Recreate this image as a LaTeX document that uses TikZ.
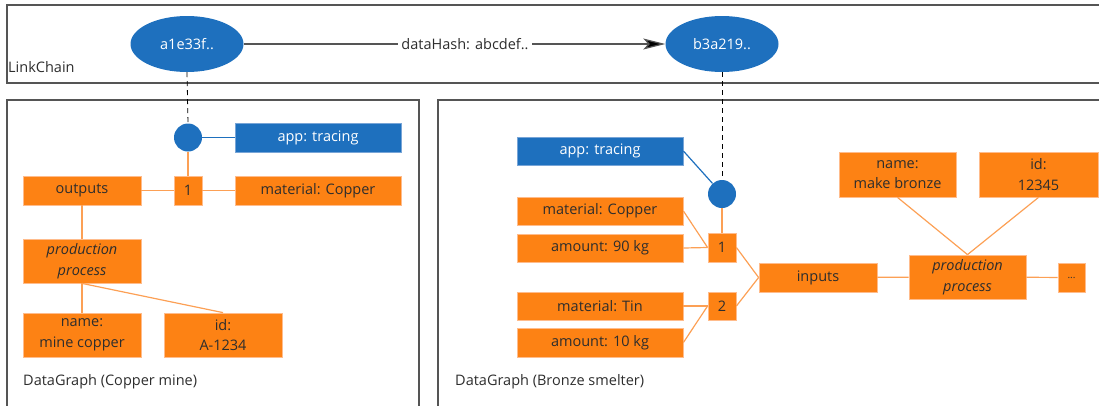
\documentclass[tikz,border=0pt]{standalone}
\usepackage{fontspec}
\setmainfont{Open Sans}
\usetikzlibrary{shapes.geometric,arrows.meta}

\definecolor{boxorange}{RGB}{253,130,20}
\definecolor{orangeedge}{RGB}{255,188,140}
\definecolor{lineorange}{RGB}{252,160,85}
\definecolor{boxblue}{RGB}{30,112,190}
\definecolor{blueedge}{RGB}{120,165,215}
\definecolor{framegray}{RGB}{85,85,85}
\definecolor{inktext}{RGB}{45,45,45}

\begin{document}
\begin{tikzpicture}[x=1pt,y=-1pt,
  font=\fontsize{14.5}{20.5}\selectfont,
  ob/.style={draw=orangeedge, fill=boxorange, line width=0.8pt, inner sep=0pt,
             text=inktext, align=center},
  bb/.style={draw=blueedge, fill=boxblue, line width=0.8pt, inner sep=0pt,
             text=white, align=center},
  dot/.style={circle, fill=boxblue, minimum size=28, inner sep=0pt},
  hashnode/.style={ellipse, fill=boxblue, text=white, minimum width=113,
                   minimum height=56, inner sep=0pt},
  link/.style={draw=lineorange, line width=1.2pt},
  bluelink/.style={draw=boxblue, line width=1.2pt},
  frame/.style={draw=framegray, line width=1.4pt},
  anchorline/.style={draw=black, line width=0.8pt, dash pattern=on 5pt off 4pt},
  caption/.style={anchor=west, inner sep=0pt, text=inktext}
]
\useasboundingbox (0,0) rectangle (1099,405);
\clip (0,0) rectangle (1099,405);

% frames: chain on top, the two data graphs below
\draw[frame] (7,5) rectangle (1110,83);
\draw[frame] (7,100) rectangle (419,415);
\draw[frame] (438,100) rectangle (1110,415);

\node[caption] (lcl) at (8,67) {LinkChain};
\node[caption] (dgl) at (23,382) {DataGraph (Copper mine)};
\node[caption] (dgr) at (455,382) {DataGraph (Bronze smelter)};

% link chain entries
\node[hashnode] (ha) at (187,44) {a1e33f..};
\node[hashnode] (hb) at (722,44) {b3a219..};
\draw[draw=framegray, line width=1.2pt, -{Stealth[length=22pt,width=11pt,inset=5pt,fill=black]}]
  (ha) -- node[pos=0.525, fill=white, inner sep=3pt, text=inktext] (hashlbl) {dataHash: abcdef..} (hb);

% copper mine graph
\node[dot] (dotL) at (188,137.5) {};
\node[bb, minimum width=166, minimum height=29] (appL) at (318,137.5) {app: tracing};
\node[ob, minimum width=28, minimum height=29] (oneL) at (188,190.5) {1};
\node[ob, minimum width=118, minimum height=29] (outL) at (82,190.5) {outputs};
\node[ob, minimum width=166, minimum height=29] (matL) at (318,190.5) {material: Copper};
\node[ob, minimum width=118, minimum height=44] (prodL) at (82,261) {\itshape production\\\itshape process};
\node[ob, minimum width=118, minimum height=44] (nameL) at (82,335) {name:\\mine copper};
\node[ob, minimum width=118, minimum height=44] (idL) at (223,335) {id:\\A-1234};

\draw[bluelink] (dotL) -- (appL);
\draw[link] (dotL) -- (oneL);
\draw[link] (outL) -- (oneL);
\draw[link] (oneL) -- (matL);
\draw[link] (outL) -- (prodL);
\draw[link] (prodL) -- (nameL);
\draw[link] (prodL.south) -- (idL.north);

% bronze smelter graph
\node[bb, minimum width=166, minimum height=28] (appR) at (600,151) {app: tracing};
\node[dot] (dotR) at (722,194) {};
\node[ob, minimum width=166, minimum height=28] (matCu) at (600,211) {material: Copper};
\node[ob, minimum width=166, minimum height=28] (amt90) at (600,248) {amount: 90 kg};
\node[ob, minimum width=28, minimum height=29] (oneR) at (722,247.5) {1};
\node[ob, minimum width=166, minimum height=28] (matSn) at (600,306) {material: Tin};
\node[ob, minimum width=166, minimum height=29] (amt10) at (600,342.5) {amount: 10 kg};
\node[ob, minimum width=28, minimum height=28] (twoR) at (722,306) {2};
\node[ob, minimum width=118, minimum height=29] (inR) at (818,277.5) {inputs};
\node[ob, minimum width=117, minimum height=44] (prodR) at (967.5,277) {\itshape production\\\itshape process};
\node[ob, minimum width=117, minimum height=45] (nameR) at (897.5,174.5) {name:\\make bronze};
\node[ob, minimum width=119, minimum height=45] (idR) at (1038.5,174.5) {id:\\12345};
\node[ob, minimum width=27, minimum height=29, font=\fontsize{10}{12}\selectfont] (more) at (1071.5,277.5) {...};

\draw[bluelink] (appR.east) -- (dotR);
\draw[link] (dotR) -- (oneR);
\draw[link] (matCu.east) -- (oneR.west);
\draw[link] (amt90.east) -- (oneR.west);
\draw[link] (matSn.east) -- (twoR.west);
\draw[link] (amt10.east) -- (twoR.west);
\draw[link] (oneR.east) -- (inR.west);
\draw[link] (twoR.east) -- (inR.west);
\draw[link] (inR) -- (prodR);
\draw[link] (prodR) -- (more);
\draw[link] (nameR.south) -- (prodR.north);
\draw[link] (idR.south) -- (prodR.north);

% anchoring of graph roots in the chain
\draw[anchorline] (ha.south) -- (dotL.north);
\draw[anchorline] (hb.south) -- (dotR.north);
\end{tikzpicture}
\end{document}
